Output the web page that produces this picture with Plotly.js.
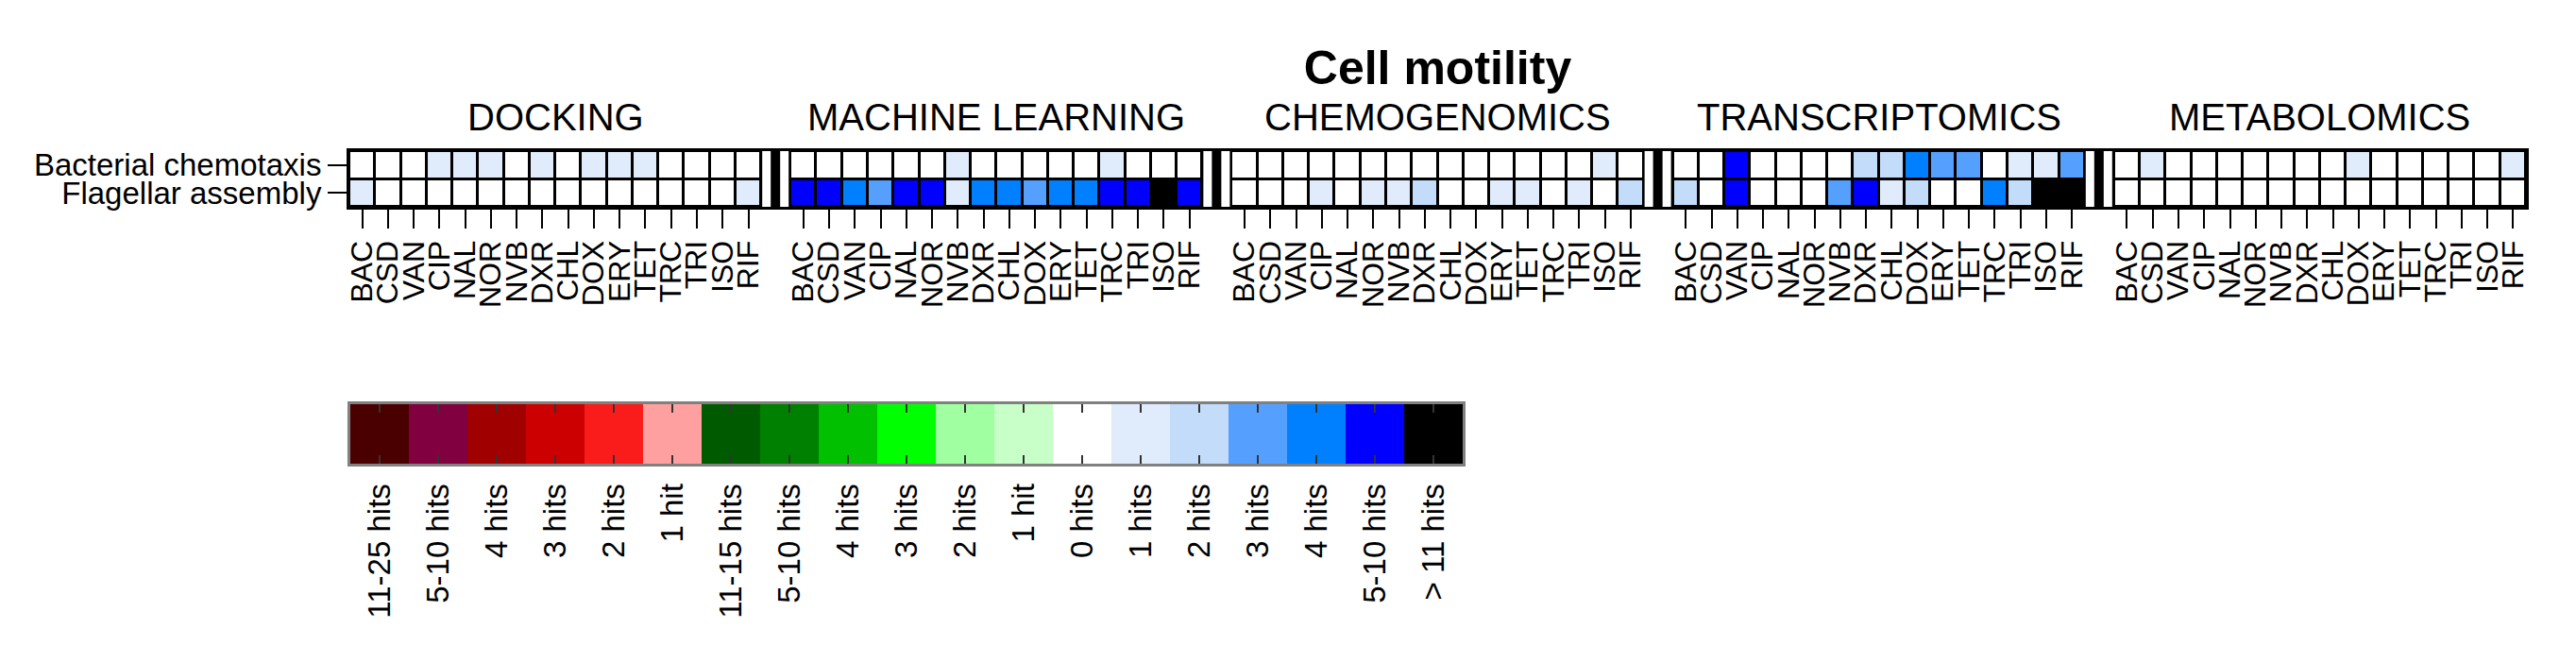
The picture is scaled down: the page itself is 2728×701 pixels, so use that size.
<!DOCTYPE html>
<html>
<head>
<meta charset="utf-8">
<script src="https://cdn.plot.ly/plotly-3.0.1.min.js"></script>
<style>html,body{margin:0;padding:0;background:#fff;}#chart{width:2728px;height:701px;}</style>
</head>
<body>
<div id="chart"></div>
<script>
// ---------- DATA ----------
const TITLE = 'Cell motility';
const GROUPS = ['DOCKING', 'MACHINE LEARNING', 'CHEMOGENOMICS', 'TRANSCRIPTOMICS', 'METABOLOMICS'];
const DRUGS = ['BAC','CSD','VAN','CIP','NAL','NOR','NVB','DXR','CHL','DOX','ERY','TET','TRC','TRI','ISO','RIF'];
const PATHWAYS = ['Bacterial chemotaxis', 'Flagellar assembly'];

// hit level per cell: 0 = 0 hits, 1 = 1 hit, 2 = 2, 3 = 3, 4 = 4, 5 = 5-10, 6 = >11
const docking_chemotaxis         = [0,0,0,1,1,1,0,1,0,1,1,1,0,0,0,0];
const docking_flagellar          = [1,0,0,0,0,0,0,0,0,0,0,0,0,0,0,1];
const machine_chemotaxis         = [0,0,0,0,0,0,1,0,0,0,0,0,1,0,0,0];
const machine_flagellar          = [5,5,4,3,5,5,1,4,4,3,4,4,5,5,6,5];
const chemogenomics_chemotaxis   = [0,0,0,0,0,0,0,0,0,0,0,0,0,0,1,0];
const chemogenomics_flagellar    = [0,0,0,1,0,1,1,2,0,0,1,1,0,1,0,2];
const transcriptomics_chemotaxis = [0,0,5,0,0,0,0,2,2,4,3,3,0,1,1,3];
const transcriptomics_flagellar  = [2,0,5,0,0,0,3,5,1,2,0,0,4,2,6,6];
const metabolomics_chemotaxis    = [0,1,0,0,0,0,0,0,0,1,0,0,0,0,0,1];
const metabolomics_flagellar     = [0,0,0,0,0,0,0,0,0,0,0,0,0,0,0,0];

const ROWS = [
  [docking_chemotaxis, machine_chemotaxis, chemogenomics_chemotaxis, transcriptomics_chemotaxis, metabolomics_chemotaxis],
  [docking_flagellar, machine_flagellar, chemogenomics_flagellar, transcriptomics_flagellar, metabolomics_flagellar]
];

// colour key
const LEGEND_LABELS = ['11-25 hits','5-10 hits','4 hits','3 hits','2 hits','1 hit',
  '11-15 hits','5-10 hits','4 hits','3 hits','2 hits','1 hit',
  '0 hits','1 hits','2 hits','3 hits','4 hits','5-10 hits','> 11 hits'];
const LEGEND_COLORS = ['#4b0000','#800040','#a00000','#cc0000','#fa1b1b','#ffa0a0',
  '#005a00','#008000','#00c000','#00ff00','#a0ffa0','#c8ffc8',
  '#ffffff','#e0ebfc','#c2dcfa','#55a0ff','#0080ff','#0000ff','#000000'];
const ZERO_HITS_INDEX = 12; // position of "0 hits" in the key

// ---------- LAYOUT CONSTANTS ----------
const W = 2728, H = 701;
const FONT = 'Liberation Sans, Arial, sans-serif';
const SEP_WHITE = 0.44, SEP_BLACK = 0.26;   // separator widths in cell units
const GAP = 3;

// ---------- BUILD ----------
const n = DRUGS.length;
const edges = [0];
let pos = 0;
const groupStarts = [];
const sepEdges = [];
GROUPS.forEach((g, gi) => {
  groupStarts.push(pos);
  for (let i = 0; i < n; i++) { pos += 1; edges.push(pos); }
  if (gi < GROUPS.length - 1) {
    const s0 = pos;
    pos += SEP_WHITE; edges.push(pos);
    pos += SEP_BLACK; edges.push(pos);
    pos += SEP_WHITE; edges.push(pos);
    sepEdges.push([s0, s0 + SEP_WHITE, s0 + SEP_WHITE + SEP_BLACK, pos]);
  }
});
const xMax = pos;

const z = ROWS.map(rowGroups => {
  const r = [];
  rowGroups.forEach((vals, gi) => {
    vals.forEach(v => r.push(v + ZERO_HITS_INDEX));
    if (gi < GROUPS.length - 1) r.push(null, null, null);
  });
  return r;
});

const tickvals = [], ticktext = [];
groupStarts.forEach(s => DRUGS.forEach((d, i) => { tickvals.push(s + i + 0.5); ticktext.push(d); }));

const nC = LEGEND_COLORS.length;
const colorscale = [];
LEGEND_COLORS.forEach((c, i) => { colorscale.push([i / nC, c]); colorscale.push([(i + 1) / nC, c]); });

const traces = [{
  type: 'heatmap', x: edges, y: [0, 1], z: z,
  colorscale: colorscale, zmin: -0.5, zmax: nC - 0.5, showscale: false,
  xgap: GAP, ygap: GAP, hoverinfo: 'skip', xaxis: 'x', yaxis: 'y'
}];
sepEdges.forEach(e => traces.push({
  type: 'heatmap', x: e, y: [-0.5, 1.5], z: [[0, 1, 0]],
  colorscale: [[0, '#ffffff'], [1, '#000000']], zmin: 0, zmax: 1, showscale: false,
  xgap: GAP, hoverinfo: 'skip', xaxis: 'x', yaxis: 'y'
}));
traces.push({
  type: 'heatmap', x: LEGEND_LABELS.map((_, i) => i), y: [0],
  z: [LEGEND_LABELS.map((_, i) => i)],
  colorscale: colorscale, zmin: -0.5, zmax: nC - 0.5, showscale: false,
  hoverinfo: 'skip', xaxis: 'x2', yaxis: 'y2'
});

const px = v => v / W, py = v => 1 - v / H;
const mainLeft = 370, mainRight = 2675, mainTop = 160, mainBottom = 219;

const annotations = GROUPS.map((g, gi) => ({
  text: g, xref: 'x', yref: 'paper', x: groupStarts[gi] + n / 2, y: py(124),
  xanchor: 'center', yanchor: 'middle', showarrow: false,
  font: {family: FONT, size: 40, color: '#000'}
}));

const layout = {
  width: W, height: H,
  margin: {l: 0, r: 0, t: 0, b: 0},
  paper_bgcolor: '#ffffff', plot_bgcolor: '#000000',
  showlegend: false,
  title: {text: TITLE, x: px((mainLeft + mainRight) / 2), xref: 'paper', xanchor: 'center',
          y: py(71), yref: 'paper', yanchor: 'middle',
          font: {family: FONT, size: 50, color: '#000', weight: 'bold'}},
  xaxis: {domain: [px(mainLeft), px(mainRight)], anchor: 'y', range: [0, xMax],
          tickmode: 'array', tickvals: tickvals, ticktext: ticktext, tickangle: -90,
          ticks: 'outside', ticklen: 20, tickwidth: 2, tickcolor: '#000',
          tickfont: {family: FONT, size: 32, color: '#000'},
          showline: true, linecolor: '#000', linewidth: 3, mirror: true,
          showgrid: false, zeroline: false, fixedrange: true},
  yaxis: {domain: [py(mainBottom), py(mainTop)], anchor: 'x', range: [1.5, -0.5],
          tickmode: 'array', tickvals: [0, 1], ticktext: PATHWAYS,
          ticks: 'outside', ticklen: 20, tickwidth: 2, tickcolor: '#000',
          tickfont: {family: FONT, size: 33, color: '#000'},
          showline: true, linecolor: '#000', linewidth: 3, mirror: true,
          showgrid: false, zeroline: false, fixedrange: true},
  xaxis2: {domain: [px(371), px(1549)], anchor: 'y2', range: [-0.5, nC - 0.5],
           tickmode: 'array', tickvals: LEGEND_LABELS.map((_, i) => i), ticktext: LEGEND_LABELS,
           tickangle: -90, ticks: 'inside', ticklen: 9, tickwidth: 1.5, tickcolor: '#333',
           ticklabelstandoff: 5,
           tickfont: {family: FONT, size: 33, color: '#000'},
           showline: true, linecolor: '#808080', linewidth: 3, mirror: 'ticks',
           showgrid: false, zeroline: false, fixedrange: true},
  yaxis2: {domain: [py(491), py(428)], anchor: 'x2', range: [-0.5, 0.5],
           showticklabels: false, ticks: '',
           showline: true, linecolor: '#808080', linewidth: 3, mirror: true,
           showgrid: false, zeroline: false, fixedrange: true},
  annotations: annotations
};

Plotly.newPlot('chart', traces, layout, {displayModeBar: false, staticPlot: true});
</script>
</body>
</html>
